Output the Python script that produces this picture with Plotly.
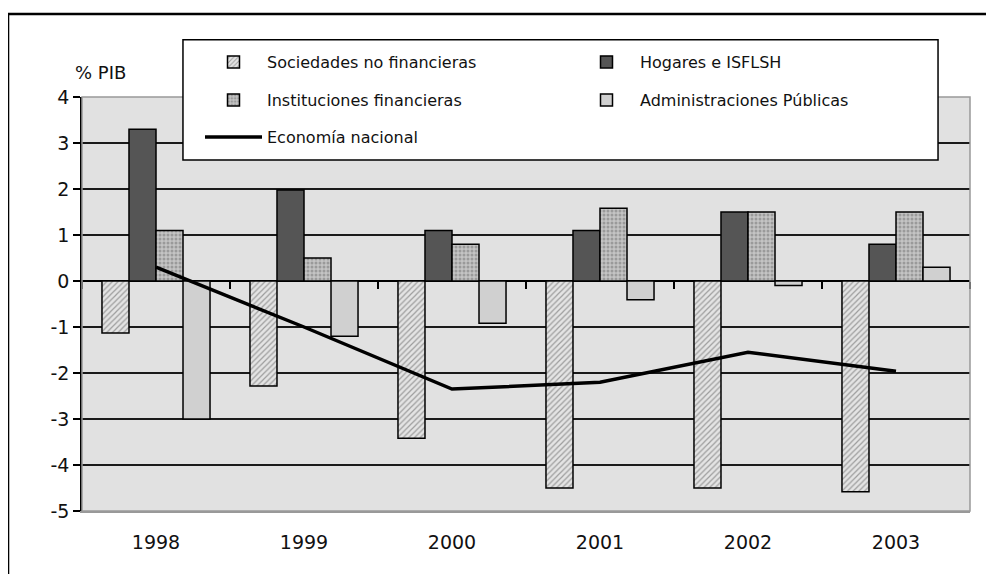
import plotly.graph_objects as go

years = ["1998", "1999", "2000", "2001", "2002", "2003"]
sociedades = [-1.13, -2.28, -3.42, -4.5, -4.5, -4.58]
hogares = [3.3, 1.98, 1.1, 1.1, 1.5, 0.8]
instituciones = [1.1, 0.5, 0.8, 1.58, 1.5, 1.5]
administraciones = [-3.0, -1.2, -0.92, -0.41, -0.1, 0.3]
economia = [0.3, -1.0, -2.35, -2.2, -1.55, -1.96]

y_ticks = [4, 3, 2, 1, 0, -1, -2, -3, -4, -5]
y_labels = ["4", "3", "2", "1", "0", "-1", "-2", "-3", "-4", "-5"]

font = "DejaVu Sans"
edge = dict(color="black", width=1.5)

fig = go.Figure()

fig.add_trace(go.Bar(
    x=years, y=sociedades, name="Sociedades no financieras",
    marker=dict(color="#e6e6e6", line=edge,
                pattern=dict(shape="/", fgcolor="#555", bgcolor="#e4e4e4", size=4, solidity=0.3)),
    legend="legend"
))
fig.add_trace(go.Bar(
    x=years, y=hogares, name="Hogares e ISFLSH",
    marker=dict(color="#555555", line=edge),
    legend="legend2"
))
fig.add_trace(go.Bar(
    x=years, y=instituciones, name="Instituciones financieras",
    marker=dict(color="#b5b5b5", line=edge,
                pattern=dict(shape=".", fgcolor="#707070", bgcolor="#c4c4c4", size=4, solidity=0.45)),
    legend="legend3"
))
fig.add_trace(go.Bar(
    x=years, y=administraciones, name="Administraciones Públicas",
    marker=dict(color="#d0d0d0", line=edge),
    legend="legend4"
))
fig.add_trace(go.Scatter(
    x=years, y=economia, name="Economía nacional", mode="lines",
    line=dict(color="black", width=3.5),
    legend="legend5"
))

# small ticks on the zero line at category boundaries
fig.add_trace(go.Scatter(x=[None], y=[None], xaxis="x2", showlegend=False))

legend_common = dict(
    orientation="v", xanchor="left", yanchor="middle", itemwidth=57,
    bgcolor="rgba(0,0,0,0)", borderwidth=0,
    font=dict(family=font, size=16, color="#111"),
    itemclick=False, itemdoubleclick=False,
)

def row(y_px):
    return (511 - y_px) / 414

col1 = (200 - 82) / 888
col2 = (573 - 82) / 888

# the page body adds 8px on the left and top, margins account for it
fig.update_layout(
    width=994, height=574,
    margin=dict(l=74, r=32, t=89, b=71, autoexpand=False),
    paper_bgcolor="white",
    plot_bgcolor="#e1e1e1",
    barmode="group",
    bargap=0.27,
    bargroupgap=0,
    showlegend=True,
    legend=dict(legend_common, x=col1, y=row(62)),
    legend2=dict(legend_common, x=col2, y=row(62)),
    legend3=dict(legend_common, x=col1, y=row(100)),
    legend4=dict(legend_common, x=col2, y=row(100)),
    legend5=dict(legend_common, x=col1, y=row(137)),
    xaxis=dict(
        type="category", showgrid=False, zeroline=False,
        showline=True, linecolor="#999", linewidth=1.5,
        ticks="", ticklabelstandoff=13,
        tickfont=dict(family=font, size=19, color="#111"),
    ),
    xaxis2=dict(
        overlaying="x", anchor="free", position=5 / 9,
        range=[-0.5, 5.5], tickvals=[-0.5, 0.5, 1.5, 2.5, 3.5, 4.5, 5.5],
        showticklabels=False, ticks="outside", ticklen=7, tickwidth=1.5,
        tickcolor="black", showgrid=False, zeroline=False, showline=False,
    ),
    yaxis=dict(
        range=[-5, 4], tickvals=y_ticks, ticktext=y_labels,
        showgrid=True, gridcolor="#1a1a1a", gridwidth=1.5,
        zeroline=True, zerolinecolor="black", zerolinewidth=1.5,
        showline=True, linecolor="black", linewidth=1.5,
        ticks="outside", ticklen=7, tickwidth=1.5, tickcolor="black",
        tickfont=dict(family=font, size=19, color="#111"),
    ),
    annotations=[dict(
        text="% PIB", xref="paper", yref="paper", x=-0.01, y=1.03,
        xanchor="left", yanchor="bottom", showarrow=False,
        font=dict(family=font, size=18, color="#111"),
    )],
    shapes=[
        # plot area edge
        dict(type="rect", xref="paper", yref="paper", x0=0, x1=1, y0=0, y1=1,
             line=dict(color="#999", width=1.5), layer="above"),
        # legend box
        dict(type="rect", xref="paper", yref="paper", x0=0.1137, x1=0.964, y0=0.848, y1=1.138,
             fillcolor="white", line=dict(color="black", width=1.5), layer="above"),
        # outer frame
        dict(type="rect", xref="paper", yref="paper", x0=-0.0833, x1=1.04, y0=-0.17, y1=1.2005,
             line=dict(color="black", width=2.5), layer="above"),
    ],
)

fig.write_html("out.html")
